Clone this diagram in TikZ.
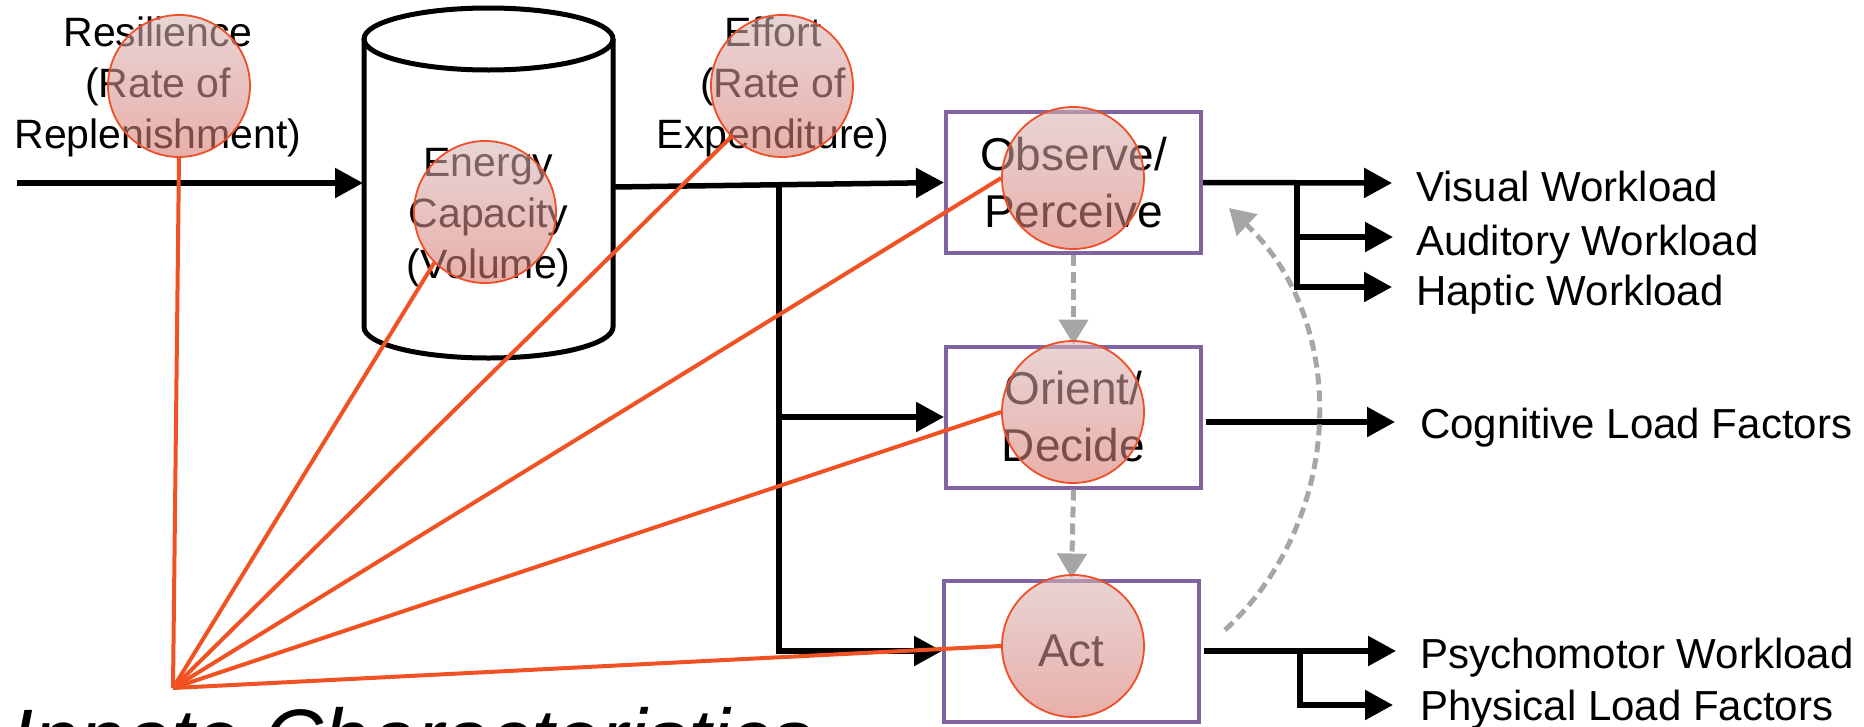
\documentclass[tikz,border=0pt]{standalone}
\usepackage{fontspec}
\setmainfont{Liberation Sans}
\usetikzlibrary{arrows.meta}
\definecolor{boxpurple}{RGB}{128,100,162}
\definecolor{linkorange}{RGB}{240,82,36}
\definecolor{ringred}{RGB}{238,78,40}
\definecolor{dashgray}{RGB}{166,166,166}
\definecolor{hitop}{RGB}{215,182,182}
\definecolor{hibot}{RGB}{215,118,108}
\begin{document}
\begin{tikzpicture}[x=1pt,y=-1pt,
  flow/.style={line width=5.5pt, draw=black, -{Triangle[length=28pt,width=29pt]}},
  proc/.style={draw=boxpurple, line width=4pt, minimum width=255pt, minimum height=141pt,
    inner sep=0pt, align=center, font=\fontsize{46}{57}\selectfont},
  lbl/.style={font=\fontsize{41}{51}\selectfont, align=center, inner sep=0pt, anchor=base},
  outlbl/.style={font=\fontsize{42}{50}\selectfont, inner sep=0pt, anchor=base west},
  feedback/.style={draw=dashgray, line width=5pt, dash pattern=on 11pt off 6pt,
    -{Triangle[length=25pt,width=29pt]}},
  link/.style={draw=linkorange, line width=4pt},
  hilite/.style={circle, minimum size=142pt, inner sep=0pt, draw=ringred, line width=1.8pt,
    top color=hitop, bottom color=hibot, fill opacity=0.58, draw opacity=1}
]
\useasboundingbox (0,0) rectangle (1864,726);
\clip (0,0) rectangle (1864,726);

% named points
\coordinate (inStart) at (17,183);
\coordinate (cylW) at (363,183);
\coordinate (cylE) at (613,187);
\coordinate (busT) at (779,186.5);
\coordinate (inn) at (173,688);
\coordinate (vT) at (1392,183);
\coordinate (vJ) at (1297,183);
\coordinate (aT) at (1393,237);
\coordinate (hT) at (1392,287);
\coordinate (cS) at (1206,422);
\coordinate (cT) at (1395,422);
\coordinate (pS) at (1204,651);
\coordinate (pJ) at (1300,651);
\coordinate (pT) at (1396,651);
\coordinate (phT) at (1393,705);
\coordinate (fbS) at (1225,630);
\coordinate (fbE) at (1229,208);

% energy tank (cylinder)
\draw[line width=5pt] (364,39) -- (364,327)
  arc[start angle=180, end angle=0, x radius=124.5, y radius=31] -- (613,39);
\draw[line width=5pt] (488.5,39) ellipse [x radius=124.5, y radius=31];

% texts (base anchor = baseline of the last line)
\node[lbl] (res) at (158,148) {Resilience\\(Rate of\\Replenishment)};
\node[lbl] (eff) at (773,148) {Effort\\(Rate of\\Expenditure)};
\node[lbl] (cap) at (488.5,278) {Energy\\Capacity\\(Volume)};
\node[font=\fontsize{83}{90}\selectfont\itshape, anchor=base west, inner sep=0pt] (innate)
  at (10,767) {Innate Characteristics};

% OODA boxes
\node[proc] (obs) at (1073.5,182.5) {Observe/\\Perceive};
\node[proc] (ori) at (1073.5,417) {Orient/\\Decide};
\node[proc] (act) at (1071.5,651) {Act};

% input flows
\draw[flow] (inStart) -- (cylW);
\draw[flow] (cylE) -- (obs.west);
\draw[flow] (busT) |- (act.west);
\draw[flow] (ori.west -| busT) -- (ori.west);

% outputs
\draw[flow] (obs.east) -- (vT);
\draw[flow] (vJ) |- (hT);
\draw[flow] (aT -| vJ) -- (aT);
\draw[flow] (cS) -- (cT);
\draw[flow] (pS) -- (pT);
\draw[flow] (pJ) |- (phT);

\node[outlbl] (lV) at (1416,201) {Visual Workload};
\node[outlbl] (lA) at (1416,255) {Auditory Workload};
\node[outlbl] (lH) at (1416,305) {Haptic Workload};
\node[outlbl] (lC) at (1420,438) {Cognitive Load Factors};
\node[outlbl] (lP) at (1420,668) {Psychomotor Workload};
\node[outlbl] (lPh) at (1420,720) {Physical Load Factors};

% feedback / sequence (gray dashed)
\draw[feedback] (obs.south) -- (ori.north);
\draw[feedback] (ori.south) -- (act.north);
\draw[feedback] (fbS) .. controls (1346,518) and (1349,322) .. (fbE);

% highlight circles
\node[hilite] (cRes) at (179,86) {};
\node[hilite] (cEn) at (485,212) {};
\node[hilite] (cEf) at (782,86) {};
\node[hilite] (cObs) at (1073,178) {};
\node[hilite] (cOri) at (1073,412) {};
\node[hilite] (cAct) at (1073,646) {};

% orange links from innate characteristics
\draw[link] (inn) -- (cRes.south);
\draw[link] (inn) -- (cEn.south west);
\draw[link] (inn) -- (cEf.south west);
\draw[link] (inn) -- (cObs.west);
\draw[link] (inn) -- (cOri.west);
\draw[link] (inn) -- (cAct.west);
\end{tikzpicture}
\end{document}
